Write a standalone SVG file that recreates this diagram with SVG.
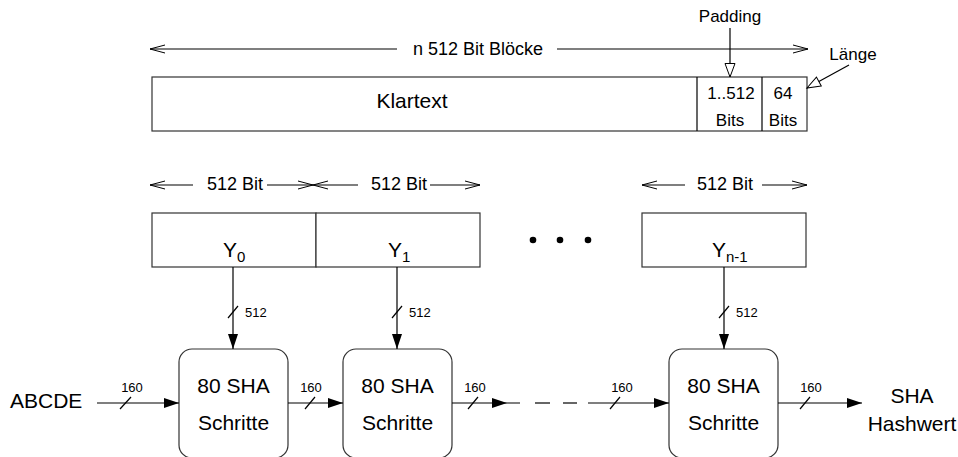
<svg xmlns="http://www.w3.org/2000/svg" width="958" height="457" viewBox="0 0 958 457">
<style>
text{font-family:"Liberation Sans",Arial,sans-serif;fill:#000}
.b{font-size:21px}
.m{font-size:18px}
.s{font-size:17px}
.t{font-size:13px}
.box{fill:#fff;stroke:#333;stroke-width:1.2}
.ln{fill:none;stroke:#000;stroke-width:1.2}
</style>
<defs>
<marker id="chev" markerUnits="userSpaceOnUse" markerWidth="18" markerHeight="10" refX="15" refY="4" orient="auto-start-reverse" overflow="visible">
<path d="M0,0 L15,4 L0,8" fill="none" stroke="#000" stroke-width="1"/>
</marker>
<marker id="fil" markerUnits="userSpaceOnUse" markerWidth="16" markerHeight="11" refX="15" refY="5" orient="auto" overflow="visible">
<path d="M0,0 L15,5 L0,10 Z" fill="#000"/>
</marker>
<marker id="tri" markerUnits="userSpaceOnUse" markerWidth="16" markerHeight="12" refX="14" refY="5.5" orient="auto" overflow="visible">
<path d="M0.5,0.5 L14,5.5 L0.5,10.5 Z" fill="#fff" stroke="#000" stroke-width="1"/>
</marker>
</defs>

<g id="top-dimension">
<line class="ln" x1="150" y1="49" x2="397" y2="49" marker-start="url(#chev)"/>
<line class="ln" x1="557" y1="49" x2="808" y2="49" marker-end="url(#chev)"/>
<text class="m" x="478" y="55" text-anchor="middle">n 512 Bit Blöcke</text>
</g>

<g id="klartext">
<rect class="box" x="152" y="77" width="655" height="54"/>
<line class="ln" x1="697" y1="77" x2="697" y2="131" stroke="#333"/>
<line class="ln" x1="762" y1="77" x2="762" y2="131" stroke="#333"/>
<text class="b" x="412" y="108" text-anchor="middle">Klartext</text>
<text class="s" x="731" y="99" text-anchor="middle">1..512</text>
<text class="s" x="730" y="126" text-anchor="middle">Bits</text>
<text class="s" x="783" y="99" text-anchor="middle">64</text>
<text class="s" x="783" y="126" text-anchor="middle">Bits</text>
</g>

<g id="padding-label">
<text class="s" x="730" y="22" text-anchor="middle">Padding</text>
</g>
<g id="laenge-label">
<text class="s" x="853" y="60" text-anchor="middle">Länge</text>
</g>

<g id="block-dimensions">
<line class="ln" x1="150" y1="185" x2="193" y2="185" marker-start="url(#chev)"/>
<line class="ln" x1="267" y1="185" x2="313" y2="185" marker-end="url(#chev)"/>
<text class="m" x="235" y="190" text-anchor="middle">512 Bit</text>
<line class="ln" x1="313" y1="185" x2="358" y2="185" marker-start="url(#chev)"/>
<line class="ln" x1="430" y1="185" x2="480" y2="185" marker-end="url(#chev)"/>
<text class="m" x="399" y="190" text-anchor="middle">512 Bit</text>
<line class="ln" x1="642" y1="185" x2="685" y2="185" marker-start="url(#chev)"/>
<line class="ln" x1="762" y1="185" x2="807" y2="185" marker-end="url(#chev)"/>
<text class="m" x="725" y="190" text-anchor="middle">512 Bit</text>
</g>

<g id="Y0">
<rect class="box" x="152" y="213" width="164" height="54"/>
<text class="b" x="223" y="257">Y<tspan font-size="15" dy="5">0</tspan></text>
</g>
<g id="Y1">
<rect class="box" x="316" y="213" width="164" height="54"/>
<text class="b" x="388" y="257">Y<tspan font-size="15" dy="5">1</tspan></text>
</g>
<g id="dots">
<circle cx="533" cy="240" r="3.3"/>
<circle cx="560" cy="240" r="3.3"/>
<circle cx="588" cy="240" r="3.3"/>
</g>
<g id="Yn-1">
<rect class="box" x="642" y="213" width="164" height="54"/>
<text class="b" x="712" y="257">Y<tspan font-size="15" dy="5">n-1</tspan></text>
</g>

<g id="sha1">
<rect class="box" x="179" y="349" width="109" height="109" rx="13"/>
<text class="b" x="233.5" y="393" text-anchor="middle">80 SHA</text>
<text class="b" x="233.5" y="430" text-anchor="middle">Schritte</text>
</g>
<g id="sha2">
<rect class="box" x="343" y="349" width="109" height="109" rx="13"/>
<text class="b" x="397.5" y="393" text-anchor="middle">80 SHA</text>
<text class="b" x="397.5" y="430" text-anchor="middle">Schritte</text>
</g>
<g id="sha3">
<rect class="box" x="669" y="349" width="109" height="109" rx="13"/>
<text class="b" x="723.5" y="393" text-anchor="middle">80 SHA</text>
<text class="b" x="723.5" y="430" text-anchor="middle">Schritte</text>
</g>

<g id="abcde">
<text class="b" x="10" y="408">ABCDE</text>
</g>
<g id="hash-out">
<text class="b" x="912" y="403" text-anchor="middle">SHA</text>
<text class="b" x="912" y="431" text-anchor="middle">Hashwert</text>
</g>

<g id="connectors">
<line class="ln" x1="730" y1="28" x2="730" y2="77" marker-end="url(#tri)"/>
<line class="ln" x1="849" y1="65" x2="807" y2="88" marker-end="url(#tri)"/>

<line class="ln" x1="233" y1="267" x2="233" y2="349" marker-end="url(#fil)"/>
<line class="ln" x1="228" y1="318" x2="238" y2="306"/>
<text class="t" x="245" y="317">512</text>
<line class="ln" x1="397" y1="267" x2="397" y2="349" marker-end="url(#fil)"/>
<line class="ln" x1="392" y1="318" x2="402" y2="306"/>
<text class="t" x="409" y="317">512</text>
<line class="ln" x1="724" y1="267" x2="724" y2="349" marker-end="url(#fil)"/>
<line class="ln" x1="719" y1="318" x2="729" y2="306"/>
<text class="t" x="736" y="317">512</text>

<line class="ln" x1="97" y1="403" x2="179" y2="403" marker-end="url(#fil)"/>
<line class="ln" x1="120" y1="409" x2="131" y2="397"/>
<text class="t" x="132" y="392" text-anchor="middle">160</text>

<line class="ln" x1="288" y1="403" x2="343" y2="403" marker-end="url(#fil)"/>
<line class="ln" x1="305" y1="409" x2="315" y2="397"/>
<text class="t" x="311" y="392" text-anchor="middle">160</text>

<line class="ln" x1="452" y1="403" x2="520" y2="403"/>
<path d="M492,398 L507,403 L492,408 Z" fill="#000"/>
<line class="ln" x1="468" y1="409" x2="478" y2="397"/>
<text class="t" x="475" y="392" text-anchor="middle">160</text>
<line class="ln" x1="535" y1="403" x2="550" y2="403"/>
<line class="ln" x1="563" y1="403" x2="577" y2="403"/>
<line class="ln" x1="588" y1="403" x2="669" y2="403" marker-end="url(#fil)"/>
<line class="ln" x1="610" y1="409" x2="620" y2="397"/>
<text class="t" x="622" y="392" text-anchor="middle">160</text>

<line class="ln" x1="778" y1="403" x2="862" y2="403" marker-end="url(#fil)"/>
<line class="ln" x1="800" y1="409" x2="810" y2="397"/>
<text class="t" x="811" y="392" text-anchor="middle">160</text>
</g>
</svg>
